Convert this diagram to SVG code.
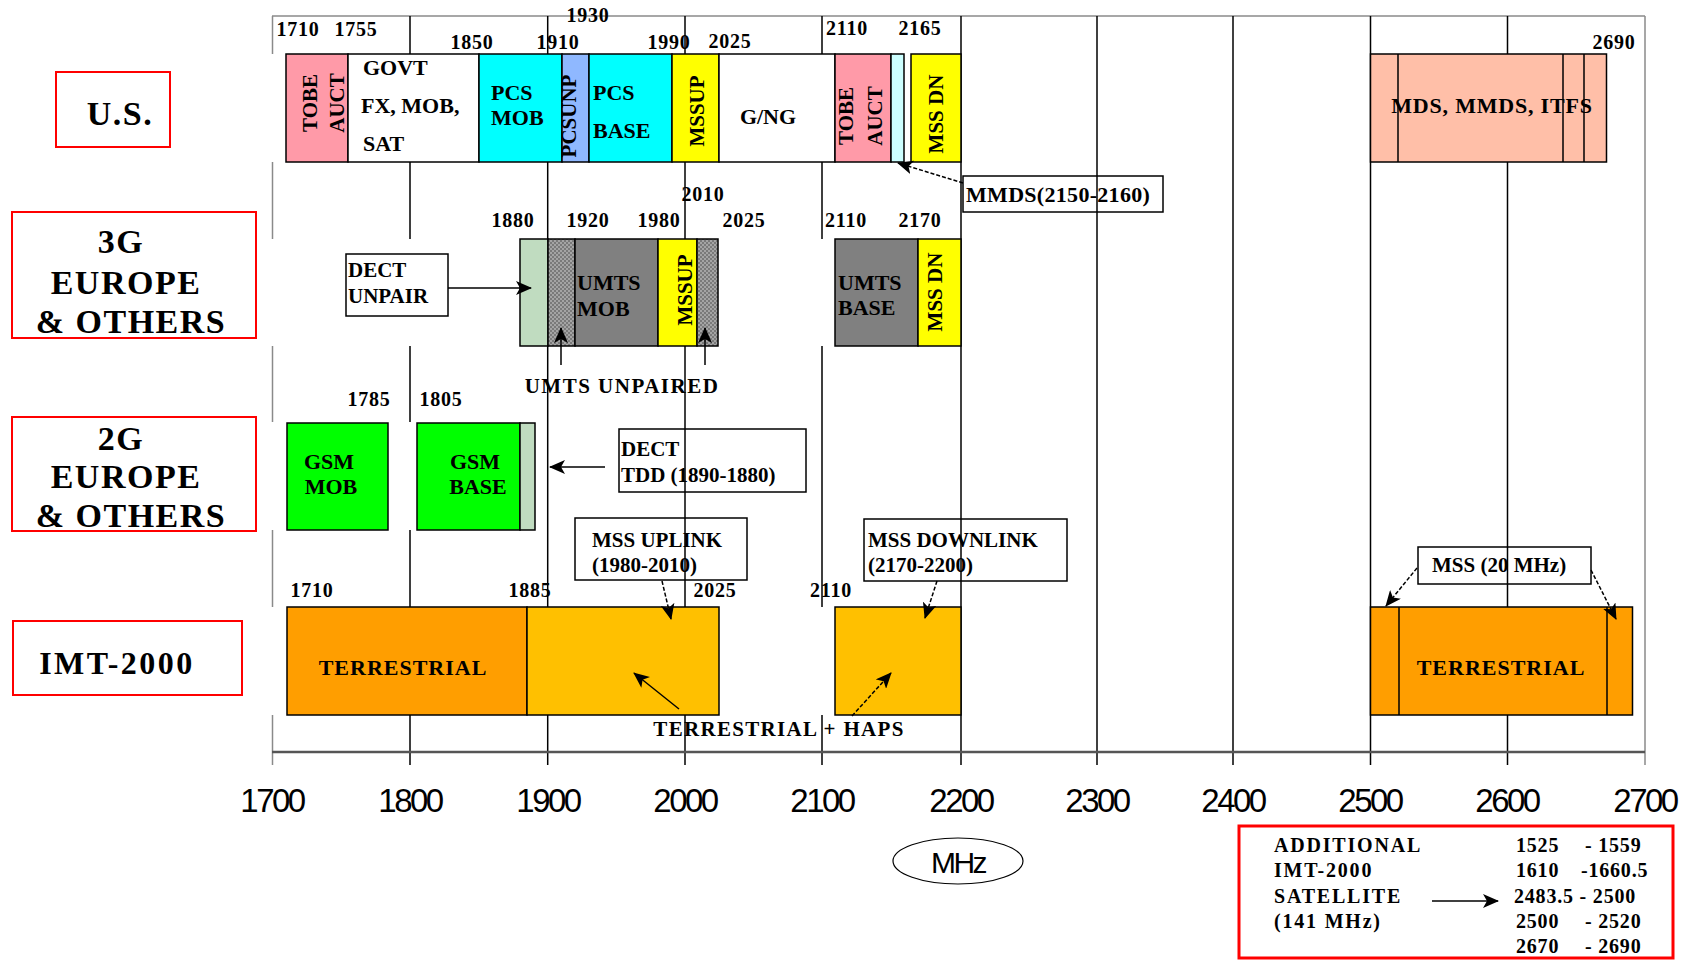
<svg xmlns="http://www.w3.org/2000/svg" width="1685" height="964" viewBox="0 0 1685 964">
<style>
text{font-family:"Liberation Serif","Times New Roman",serif;font-weight:bold;fill:#000}
.lbl{font-size:20px;text-anchor:middle;letter-spacing:0.8px}
.t22{font-size:22px}
.t21{font-size:21px}
.c{text-anchor:middle}
.big{font-size:34px;text-anchor:middle;letter-spacing:1.5px}
.ax{font-family:"Liberation Sans",Arial,sans-serif;font-weight:normal;font-size:33px;text-anchor:middle;letter-spacing:-2.5px}
.box{stroke:#000;stroke-width:1.5}
.grid{stroke:#000;stroke-width:1.5;fill:none}
.gray{stroke:#8a8a8a;stroke-width:1.5;fill:none}
.red{fill:none;stroke:#ff0000;stroke-width:2}
.call{fill:none;stroke:#000;stroke-width:1.5}
.arr{stroke:#000;stroke-width:1.5;fill:none;marker-end:url(#ah)}
.dash{stroke-dasharray:4 2}
</style>
<defs>
<marker id="ah" viewBox="0 0 16 14" refX="15" refY="7" markerWidth="16" markerHeight="14" markerUnits="userSpaceOnUse" orient="auto">
<path d="M0,0 L16,7 L0,14 L4,7 Z" fill="#000"/>
</marker>
<pattern id="hatch" width="4" height="4" patternUnits="userSpaceOnUse">
<rect width="4" height="4" fill="#a4a4a4"/>
<rect width="2" height="2" fill="#7a7a7a"/>
<rect x="2" y="2" width="2" height="2" fill="#7a7a7a"/>
</pattern>
</defs>
<rect width="1685" height="964" fill="#fff"/>

<g id="grid">
<line class="gray" x1="272" y1="16" x2="1645" y2="16"/>
<path class="gray" d="M272.5,16V54M272.5,162V239M272.5,346V422M272.5,530V607M272.5,715V765"/>
<path class="grid" d="M410,16V54M410,162V239M410,346V422M410,530V607M410,715V765"/>
<line class="grid" x1="547.7" y1="16" x2="547.7" y2="765"/>
<line class="grid" x1="685" y1="16" x2="685" y2="765"/>
<path class="grid" d="M822,16V239M822,346V607M822,715V765"/>
<line class="grid" x1="961" y1="16" x2="961" y2="765"/>
<line class="grid" x1="1097" y1="16" x2="1097" y2="765"/>
<line class="grid" x1="1233" y1="16" x2="1233" y2="765"/>
<line class="grid" x1="1370.5" y1="16" x2="1370.5" y2="765"/>
<line class="grid" x1="1507.5" y1="16" x2="1507.5" y2="765"/>
<line class="gray" x1="1645" y1="16" x2="1645" y2="765"/>
<line x1="272" y1="752" x2="1645" y2="752" stroke="#555" stroke-width="2.5"/>
</g>

<g id="axis-labels">
<text class="ax" x="272" y="812">1700</text>
<text class="ax" x="410" y="812">1800</text>
<text class="ax" x="548" y="812">1900</text>
<text class="ax" x="685" y="812">2000</text>
<text class="ax" x="822" y="812">2100</text>
<text class="ax" x="961" y="812">2200</text>
<text class="ax" x="1097" y="812">2300</text>
<text class="ax" x="1233" y="812">2400</text>
<text class="ax" x="1370" y="812">2500</text>
<text class="ax" x="1507" y="812">2600</text>
<text class="ax" x="1645" y="812">2700</text>
</g>

<g id="mhz">
<ellipse cx="958" cy="861" rx="65" ry="23" fill="none" stroke="#000" stroke-width="1.2"/>
<text class="ax" x="958" y="873" style="font-size:30px">MHz</text>
</g>

<g id="row-labels">
<g id="label-us"><rect class="red" x="56" y="72" width="114" height="75"/><text class="big" x="120" y="125">U.S.</text></g>
<g id="label-3g"><rect class="red" x="12" y="212" width="244" height="126"/>
<text class="big" x="121" y="253">3G</text><text class="big" x="126" y="294">EUROPE</text><text class="big" x="131" y="333">&amp; OTHERS</text></g>
<g id="label-2g"><rect class="red" x="12" y="417" width="244" height="114"/>
<text class="big" x="121" y="450">2G</text><text class="big" x="126" y="488">EUROPE</text><text class="big" x="131" y="527">&amp; OTHERS</text></g>
<g id="label-imt"><rect class="red" x="13" y="621" width="229" height="74"/>
<text class="big" x="117" y="674" style="font-size:32px;letter-spacing:2.5px">IMT-2000</text></g>
</g>

<g id="us-row">
<rect class="box" x="286" y="54" width="62" height="108" fill="#ff9aa8"/>
<rect class="box" x="348" y="54" width="131" height="108" fill="#fff"/>
<rect class="box" x="479" y="54" width="83" height="108" fill="#00ffff"/>
<rect class="box" x="562" y="54" width="27" height="108" fill="#8fb8ff"/>
<rect class="box" x="589" y="54" width="83" height="108" fill="#00ffff"/>
<rect class="box" x="672" y="54" width="47" height="108" fill="#ffff00"/>
<rect class="box" x="719" y="54" width="116" height="108" fill="#fff"/>
<rect class="box" x="835" y="54" width="56" height="108" fill="#ff9aa8"/>
<rect class="box" x="891" y="54" width="13" height="108" fill="#ccffff"/>
<rect class="box" x="911" y="54" width="50" height="108" fill="#ffff00"/>
<rect class="box" x="1370.5" y="54" width="236" height="108" fill="#ffbfa8"/>
<path class="grid" d="M1398,54V162M1563,54V162M1584,54V162"/>
<g class="t21">
<text transform="translate(310,103) rotate(-90)" class="c" y="7">TOBE</text>
<text transform="translate(337,103) rotate(-90)" class="c" y="7">AUCT</text>
<text transform="translate(569,116) rotate(-90)" class="c" y="7">PCSUNP</text>
<text transform="translate(697,111) rotate(-90)" class="c" y="7">MSSUP</text>
<text transform="translate(846,116) rotate(-90)" class="c" y="7">TOBE</text>
<text transform="translate(875,116) rotate(-90)" class="c" y="7">AUCT</text>
<text transform="translate(936,114) rotate(-90)" class="c" y="7">MSS DN</text>
</g>
<g class="t22">
<text x="363" y="75">GOVT</text>
<text x="361" y="113">FX, MOB,</text>
<text x="363" y="151">SAT</text>
<text x="491" y="100">PCS</text><text x="491" y="125">MOB</text>
<text x="593" y="100">PCS</text><text x="593" y="138">BASE</text>
<text x="768" y="124" class="c">G/NG</text>
<text x="1492" y="113" class="c" style="letter-spacing:0.8px">MDS, MMDS, ITFS</text>
</g>
<text class="lbl" x="298" y="36">1710</text>
<text class="lbl" x="356" y="36">1755</text>
<text class="lbl" x="588" y="22">1930</text>
<text class="lbl" x="472" y="49">1850</text>
<text class="lbl" x="558" y="49">1910</text>
<text class="lbl" x="669" y="49">1990</text>
<text class="lbl" x="730" y="48">2025</text>
<text class="lbl" x="847" y="35">2110</text>
<text class="lbl" x="920" y="35">2165</text>
<text class="lbl" x="1614" y="49">2690</text>
</g>

<g id="mmds-callout">
<rect class="call" x="963" y="176" width="200" height="36"/>
<text class="t22" x="966" y="202" style="letter-spacing:0.3px">MMDS(2150-2160)</text>
</g>

<g id="g3-row">
<rect class="box" x="520" y="239" width="28" height="107" fill="#c0dcc0"/>
<rect class="box" x="548" y="239" width="27" height="107" fill="url(#hatch)"/>
<rect class="box" x="575" y="239" width="83" height="107" fill="#808080"/>
<rect class="box" x="658" y="239" width="39" height="107" fill="#ffff00"/>
<rect class="box" x="697" y="239" width="21" height="107" fill="url(#hatch)"/>
<rect class="box" x="835" y="239" width="83" height="107" fill="#808080"/>
<rect class="box" x="918" y="239" width="43" height="107" fill="#ffff00"/>
<g class="t22">
<text x="577" y="290">UMTS</text><text x="577" y="316">MOB</text>
<text x="838" y="290">UMTS</text><text x="838" y="315">BASE</text>
</g>
<g class="t21">
<text transform="translate(685,290) rotate(-90)" class="c" y="7">MSSUP</text>
<text transform="translate(935,292) rotate(-90)" class="c" y="7">MSS DN</text>
</g>
<text class="lbl" x="513" y="227">1880</text>
<text class="lbl" x="588" y="227">1920</text>
<text class="lbl" x="659" y="227">1980</text>
<text class="lbl" x="703" y="201">2010</text>
<text class="lbl" x="744" y="227">2025</text>
<text class="lbl" x="846" y="227">2110</text>
<text class="lbl" x="920" y="227">2170</text>
<text class="t21 c" x="622" y="393" style="letter-spacing:1.5px">UMTS UNPAIRED</text>
</g>

<g id="dect-unpair">
<rect class="call" x="346" y="254" width="102" height="62" fill="#fff"/>
<text class="t21" x="348" y="277">DECT</text>
<text class="t21" x="348" y="303">UNPAIR</text>
</g>

<g id="g2-row">
<rect class="box" x="287" y="423" width="101" height="107" fill="#00ff00"/>
<rect class="box" x="417" y="423" width="103" height="107" fill="#00ff00"/>
<rect class="box" x="520" y="423" width="15" height="107" fill="#c0dcc0"/>
<g class="t22">
<text class="c" x="329" y="469">GSM</text><text class="c" x="331" y="494">MOB</text>
<text class="c" x="475" y="469">GSM</text><text class="c" x="478" y="494">BASE</text>
</g>
<text class="lbl" x="369" y="406">1785</text>
<text class="lbl" x="441" y="406">1805</text>
</g>

<g id="dect-tdd">
<rect class="call" x="619" y="429" width="187" height="63"/>
<text class="t21" x="621" y="456">DECT</text>
<text class="t21" x="621" y="482">TDD (1890-1880)</text>
</g>

<g id="imt-row">
<rect class="box" x="287" y="607" width="240" height="108" fill="#ff9e00"/>
<rect class="box" x="527" y="607" width="192" height="108" fill="#ffc000"/>
<rect class="box" x="835" y="607" width="126" height="108" fill="#ffc000"/>
<rect class="box" x="1370.5" y="607" width="262" height="108" fill="#ff9e00"/>
<path class="grid" d="M1399,607V715M1607,607V715"/>
<text class="t22 c" x="403" y="675" style="letter-spacing:1px">TERRESTRIAL</text>
<text class="t22 c" x="1501" y="675" style="letter-spacing:1px">TERRESTRIAL</text>
<text class="t21 c" x="779" y="736" style="letter-spacing:1.3px">TERRESTRIAL + HAPS</text>
<text class="lbl" x="312" y="597">1710</text>
<text class="lbl" x="530" y="597">1885</text>
<text class="lbl" x="715" y="597">2025</text>
<text class="lbl" x="831" y="597">2110</text>
</g>

<g id="mss-uplink">
<rect class="call" x="575" y="518" width="172" height="62"/>
<text class="t21" x="592" y="547">MSS UPLINK</text>
<text class="t21" x="592" y="572">(1980-2010)</text>
</g>
<g id="mss-downlink">
<rect class="call" x="864" y="519" width="203" height="62"/>
<text class="t21" x="868" y="547">MSS DOWNLINK</text>
<text class="t21" x="868" y="572">(2170-2200)</text>
</g>
<g id="mss-20">
<rect class="call" x="1418" y="547" width="173" height="37"/>
<text class="t21" x="1432" y="572">MSS (20 MHz)</text>
</g>

<g id="additional">
<rect x="1239" y="826" width="434" height="132" fill="none" stroke="#ff0000" stroke-width="3"/>
<g style="font-size:20px;letter-spacing:1.8px">
<text x="1274" y="852">ADDITIONAL</text>
<text x="1274" y="877">IMT-2000</text>
<text x="1274" y="903">SATELLITE</text>
<text x="1274" y="928">(141 MHz)</text>
</g>
<g style="font-size:20px;letter-spacing:0.8px">
<text x="1516" y="852">1525<tspan x="1585">- 1559</tspan></text>
<text x="1516" y="877">1610<tspan x="1581">-1660.5</tspan></text>
<text x="1514" y="903">2483.5 - 2500</text>
<text x="1516" y="928">2500<tspan x="1585">- 2520</tspan></text>
<text x="1516" y="953">2670<tspan x="1585">- 2690</tspan></text>
</g>
</g>

<g id="connectors">
<line class="arr dash" x1="963" y1="183" x2="898" y2="163"/>
<line class="arr" x1="448" y1="288" x2="531" y2="288"/>
<line class="arr" x1="561" y1="365" x2="561" y2="328"/>
<line class="arr" x1="705" y1="365" x2="705" y2="328"/>
<line class="arr" x1="605" y1="467" x2="550" y2="467"/>
<line class="arr dash" x1="662" y1="581" x2="671" y2="619"/>
<line class="arr dash" x1="937" y1="581" x2="925" y2="618"/>
<line class="arr" x1="679" y1="709" x2="634" y2="673"/>
<line class="arr dash" x1="852" y1="716" x2="891" y2="673"/>
<line class="arr dash" x1="1417" y1="568" x2="1386" y2="606"/>
<line class="arr dash" x1="1591" y1="570" x2="1616" y2="619"/>
<line class="arr" x1="1432" y1="901" x2="1498" y2="901"/>
</g>
</svg>
